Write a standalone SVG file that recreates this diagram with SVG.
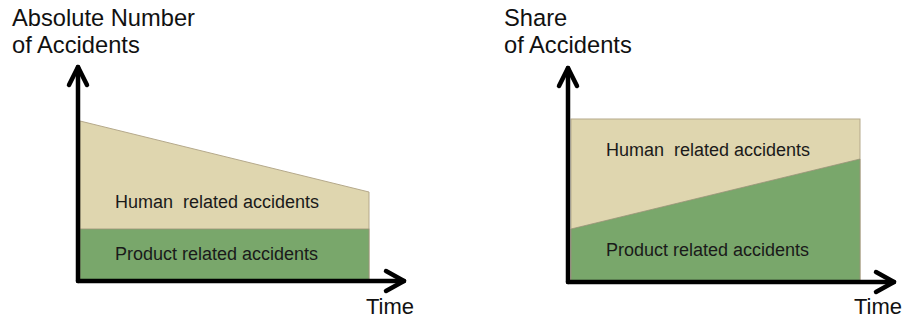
<svg xmlns="http://www.w3.org/2000/svg" width="906" height="320" viewBox="0 0 906 320">
  <defs>
    <style>
      .title { font-family: "Liberation Sans", Arial, sans-serif; font-size: 23.7px; fill: #111; }
      .time { font-family: "Liberation Sans", Arial, sans-serif; font-size: 22px; fill: #111; }
      .label { font-family: "Liberation Sans", Arial, sans-serif; font-size: 18px; fill: #1a1a1a; white-space: pre; }
      .tan { fill: #DFD6AF; stroke: #B5A98B; stroke-width: 1; }
      .green { fill: #79A76B; stroke: #9A9378; stroke-width: 0.8; }
      .axis { fill: none; stroke: #000; stroke-width: 4.5; stroke-linecap: round; stroke-linejoin: round; }
    </style>
  </defs>
  <rect width="906" height="320" fill="#fff"/>

  <!-- Left chart -->
  <g id="chart-absolute">
    <g id="abs-human">
      <polygon class="tan" points="80,121 369,192 369,281 80,281"/>
      <text class="label" x="115" y="208" xml:space="preserve">Human  related accidents</text>
    </g>
    <g id="abs-product">
      <rect class="green" x="80" y="229" width="289" height="52"/>
      <text class="label" x="115" y="260">Product related accidents</text>
    </g>
    <g id="abs-titles">
      <text class="title" x="12" y="26">Absolute Number</text>
      <text class="title" x="12" y="53">of Accidents</text>
      <text class="time" x="366" y="314">Time</text>
    </g>
  </g>

  <!-- Right chart -->
  <g id="chart-share">
    <g id="share-human">
      <rect class="tan" x="571" y="119" width="289" height="162"/>
      <text class="label" x="606" y="156" xml:space="preserve">Human  related accidents</text>
    </g>
    <g id="share-product">
      <polygon class="green" points="571,229 860,159 860,281 571,281"/>
      <text class="label" x="606" y="256">Product related accidents</text>
    </g>
    <g id="share-titles">
      <text class="title" x="504" y="26">Share</text>
      <text class="title" x="504" y="53">of Accidents</text>
      <text class="time" x="854" y="314">Time</text>
    </g>
  </g>

  <!-- Axes (connectors) -->
  <g id="axes">
    <polyline class="axis" points="78,281 78,67"/>
    <polyline class="axis" points="69,85 78,67 87,85"/>
    <polyline class="axis" points="78,281 404,281"/>
    <polyline class="axis" points="386,271 404,281 386,291"/>

    <polyline class="axis" points="568,282 568,68"/>
    <polyline class="axis" points="559,86 568,68 577,86"/>
    <polyline class="axis" points="568,282 894,282"/>
    <polyline class="axis" points="876,272 894,282 876,292"/>
  </g>
</svg>
